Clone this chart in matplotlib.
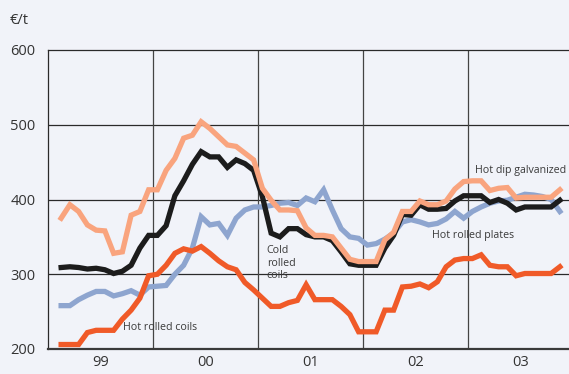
import matplotlib
matplotlib.use("Agg")
import matplotlib.pyplot as plt
import numpy as np

plt.rcParams['font.family'] = ['Open Sans', 'DejaVu Sans']

# monthly prices in EUR/t, Feb 1999 .. Nov 2003
start_year, start_month = 1999, 2
hot_rolled_coils = [206, 206, 206, 222, 225, 225, 225, 240, 252, 268,
                    298, 300, 312, 328, 334, 331, 337, 328, 318, 310,
                    306, 289, 279, 268, 257, 257, 262, 265, 286, 266,
                    266, 266, 257, 246, 223, 223, 223, 252, 252, 283,
                    284, 287, 282, 290, 310, 319, 321, 321, 326, 312,
                    310, 310, 298, 301, 301, 301, 301, 310]
cold_rolled_coils = [309, 310, 309, 307, 308, 306, 301, 304, 312, 335,
                     352, 352, 365, 405, 425, 447, 464, 457, 457, 443,
                     453, 448, 439, 404, 355, 350, 361, 361, 353, 350,
                     350, 345, 330, 314, 312, 312, 312, 335, 352, 380,
                     379, 393, 387, 387, 388, 398, 405, 405, 405, 396,
                     400, 395, 386, 390, 390, 390, 390, 399]
hot_dip_galvanized = [375, 393, 384, 366, 359, 358, 328, 330, 379, 384,
                      413, 413, 439, 455, 482, 486, 504, 495, 484, 473,
                      471, 462, 453, 415, 399, 386, 386, 385, 362, 352,
                      352, 350, 335, 320, 317, 317, 317, 346, 356, 384,
                      384, 398, 393, 393, 398, 414, 424, 425, 425, 412,
                      415, 416, 402, 403, 403, 403, 403, 413]
hot_rolled_plates = [258, 258, 266, 272, 277, 277, 271, 274, 278, 272,
                     283, 284, 285, 300, 312, 335, 377, 366, 368, 352,
                     375, 386, 390, 390, 392, 395, 396, 392, 402, 397,
                     413, 386, 361, 350, 348, 339, 341, 347, 355, 370,
                     373, 370, 366, 368, 374, 384, 375, 384, 390, 395,
                     398, 399, 403, 407, 406, 404, 400, 384]
year_labels = ["99", "00", "01", "02", "03"]

# x in months since Jan 1999, points sit mid-month
n = len(hot_rolled_coils)
x = (start_year - 1999) * 12 + (start_month - 1) + np.arange(n) + 0.5

bg = "#f1f3f9"
fig = plt.figure(figsize=(5.69, 3.74), dpi=100, facecolor=bg)
ax = fig.add_axes([48 / 569, 25 / 374, 525 / 569, 299 / 374], facecolor=bg)

lw = 3.8
ax.plot(x, hot_rolled_plates, color="#8ea5cf", lw=lw, solid_joinstyle="miter", zorder=3)
ax.plot(x, cold_rolled_coils, color="#1c1c1c", lw=lw, solid_joinstyle="miter", zorder=4)
ax.plot(x, hot_dip_galvanized, color="#f9a47e", lw=lw, solid_joinstyle="miter", zorder=5)
ax.plot(x, hot_rolled_coils, color="#f05a28", lw=lw, solid_joinstyle="miter", zorder=6)

ax.set_xlim(0, 60)
ax.set_ylim(200, 600)
ax.set_yticks([200, 300, 400, 500, 600])
ax.set_xticks(np.arange(len(year_labels)) * 12 + 6)
ax.set_xticklabels(year_labels)
ax.tick_params(length=0, labelsize=10.5, colors="#333333")
ax.tick_params(axis="y", pad=9)
ax.tick_params(axis="x", pad=4)

for v in [300, 400, 500]:
    ax.axhline(v, color="#2a2a2a", lw=0.9, zorder=1)
for m in [12, 24, 36, 48]:
    ax.axvline(m, color="#444444", lw=0.9, zorder=1)

for side in ["left", "top"]:
    ax.spines[side].set_color("#2a2a2a")
    ax.spines[side].set_linewidth(0.9)
ax.spines["bottom"].set_color("#3a3a3a")
ax.spines["bottom"].set_linewidth(1.6)
ax.spines["right"].set_visible(False)

tc = "#3a3a3a"
fs = 7.7
ax.text(8.6, 229, "Hot rolled coils", fontsize=fs, color=tc, va="center", zorder=7)
ax.text(25.0, 315, "Cold\nrolled\ncoils", fontsize=fs, color=tc, va="center",
        linespacing=1.2, zorder=7)
ax.text(43.85, 352, "Hot rolled plates", fontsize=fs, color=tc, va="center", zorder=7)
ax.text(48.8, 439, "Hot dip galvanized", fontsize=fs, color=tc, va="center", zorder=7)

fig.text(10 / 569, 1 - 20 / 374, "€/t", fontsize=10.5, color="#333333", va="center")

fig.savefig("out.png", dpi=100, facecolor=bg)
